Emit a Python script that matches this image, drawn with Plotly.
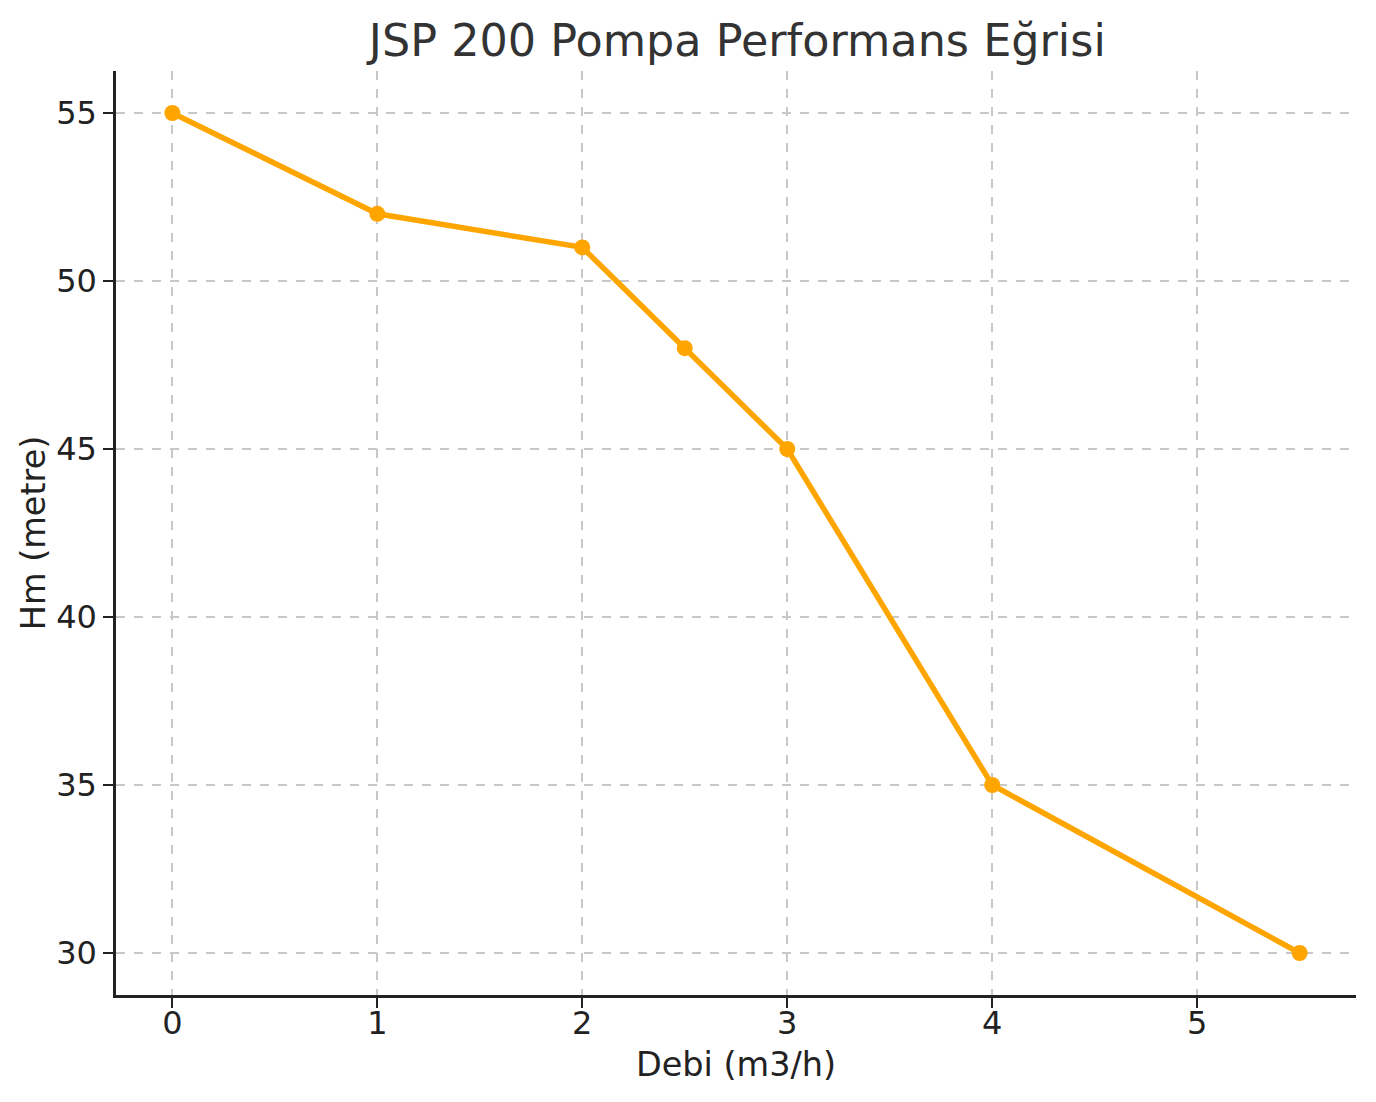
import plotly.graph_objects as go

debi = [0, 1, 2, 2.5, 3, 4, 5.5]
hm = [55, 52, 51, 48, 45, 35, 30]
x_ticks = [0, 1, 2, 3, 4, 5]
y_ticks = [30, 35, 40, 45, 50, 55]

title_text = "JSP 200 Pompa Performans Eğrisi"
x_label = "Debi (m3/h)"
y_label = "Hm (metre)"

fig = go.Figure()
fig.add_trace(go.Scatter(
    x=debi, y=hm, mode="lines+markers",
    line=dict(color="#FFA500", width=5.5),
    marker=dict(color="#FFA500", size=16),
    showlegend=False,
))

font_family = "DejaVu Sans"
axis_common = dict(
    showline=True, linecolor="#222222", linewidth=2.5, mirror=False,
    ticks="outside", ticklen=10, tickwidth=2, tickcolor="#222222",
    showgrid=True, gridcolor="#c8c8c8", gridwidth=1.5, griddash="dash",
    zeroline=False,
    tickfont=dict(family=font_family, size=32, color="#222222"),
)

fig.update_layout(
    width=1376, height=1102,
    paper_bgcolor="white", plot_bgcolor="white",
    margin=dict(l=108, r=28, t=63, b=115),
    title=dict(text=title_text, x=0.530, xanchor="center", y=1 - 32 / 1102,
               yanchor="middle", yref="container",
               font=dict(family=font_family, size=44.5, color="#333333")),
    xaxis=dict(range=[-0.275, 5.775], tickvals=x_ticks, ticklabelstandoff=-12,
               title=dict(text=x_label, standoff=12,
                          font=dict(family=font_family, size=33.5, color="#222222")),
               **axis_common),
    yaxis=dict(range=[28.75, 56.25], tickvals=y_ticks,
               title=dict(text=y_label, standoff=1,
                          font=dict(family=font_family, size=33.5, color="#222222")),
               **axis_common),
)
fig.update_xaxes(automargin=False)
fig.update_yaxes(automargin=False)

fig.write_html("out.html")
